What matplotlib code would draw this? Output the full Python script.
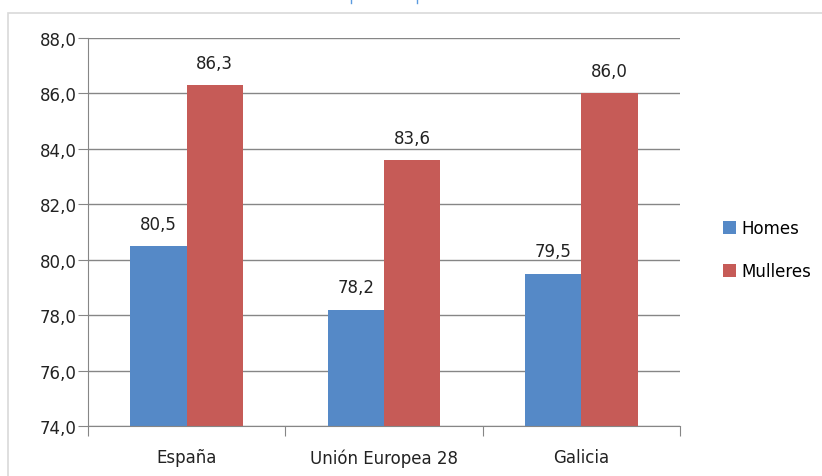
import matplotlib.pyplot as plt
from matplotlib.lines import Line2D
import numpy as np

plt.rcParams['font.family'] = ['DejaVu Sans']

categories = ['España', 'Unión Europea 28', 'Galicia']
homes = [80.5, 78.2, 79.5]
mulleres = [86.3, 83.6, 86.0]
yticks = [74, 76, 78, 80, 82, 84, 86, 88]

fig = plt.figure(figsize=(8.22, 4.77), dpi=100)
ax = fig.add_axes([88/822, 1 - 427/477, (680-88)/822, (427-39)/477])

# chart frame like the spreadsheet border
fig.patches.append(plt.Rectangle((8/822, -0.1), 1.2, 1 - 14/477 + 0.1,
                                 transform=fig.transFigure, fill=False,
                                 edgecolor='#d9d9d9', linewidth=1.2))
# bits of the cropped title above the chart
for xp in (351, 417):
    fig.add_artist(Line2D([xp/822, xp/822], [1, 1 - 4/477], transform=fig.transFigure,
                          color='#5b9be0', linewidth=1))

x = np.arange(len(categories))
w = 1 / 3.5
b1 = ax.bar(x - w/2, [h - 74 for h in homes], w, bottom=74, color='#5589C7', label='Homes')
b2 = ax.bar(x + w/2, [m - 74 for m in mulleres], w, bottom=74, color='#C65B57', label='Mulleres')

for bars, vals in ((b1, homes), (b2, mulleres)):
    for r, v in zip(bars, vals):
        ax.annotate(f'{v:.1f}'.replace('.', ','), (r.get_x() + r.get_width()/2, v),
                    xytext=(0, 9.5), textcoords='offset points', ha='center', va='bottom',
                    fontsize=12, color='#222222')

ax.set_xlim(-0.5, 2.5)
ax.set_ylim(74, 88)
ax.set_yticks(yticks)
ax.set_yticklabels([f'{t:.1f}'.replace('.', ',') for t in yticks], fontsize=12, color='#222222')
ax.set_xticks([-0.5, 0.5, 1.5, 2.5])
ax.set_xticklabels([])
ax.set_xticks(x, minor=True)
ax.set_xticklabels(categories, minor=True, fontsize=12, color='#222222')
ax.tick_params(axis='x', which='minor', length=0, pad=16)
ax.tick_params(axis='x', which='major', length=7, color='#868686')
ax.tick_params(axis='y', length=7, color='#868686', pad=1)

ax.grid(axis='y', color='#868686', linewidth=1)
ax.set_axisbelow(True)
for s in ['top', 'right']:
    ax.spines[s].set_visible(False)
ax.spines['left'].set_color('#868686')
ax.spines['bottom'].set_color('#868686')

ax.legend(loc='center left', bbox_to_anchor=(708/592 - 88/592, 0.455), frameon=False,
          fontsize=12, handlelength=0.8, handleheight=0.8, handletextpad=0.3,
          labelspacing=1.5)

fig.savefig('out.png', dpi=100)
